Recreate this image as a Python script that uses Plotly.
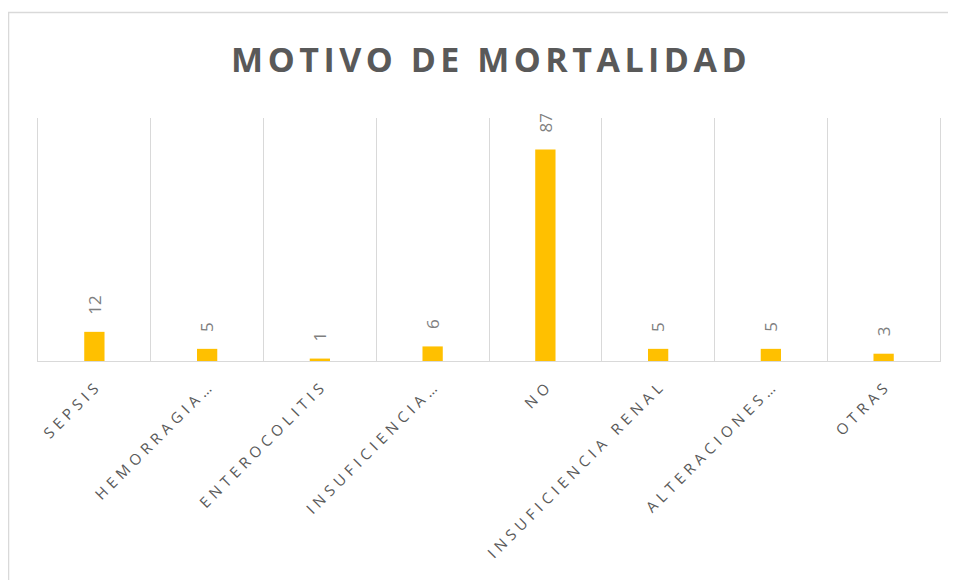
import plotly.graph_objects as go

categories = ["SEPSIS", "HEMORRAGIA…", "ENTEROCOLITIS", "INSUFICIENCIA…", "NO",
              "INSUFICIENCIA RENAL", "ALTERACIONES…", "OTRAS"]
values = [12, 5, 1, 6, 87, 5, 5, 3]
title_text = "MOTIVO DE MORTALIDAD"


def spaced(s, px):
    # letter-spacing on all but the final character (no trailing gap)
    return '<span style="letter-spacing:%spx">%s</span>%s' % (px, s[:-1], s[-1])


fig = go.Figure()
fig.add_trace(go.Bar(
    x=categories, y=values,
    marker=dict(color="#FFC000", line=dict(width=0)),
    width=0.18,
    hoverinfo="x+y",
))

for c, v in zip(categories, values):
    fig.add_annotation(x=c, y=v, text=str(v), showarrow=False,
                       textangle=-90, yanchor="bottom", yshift=15,
                       font=dict(family="Open Sans", size=17, color="#7F7F7F"))

ticktext = [spaced(c, 4.8) for c in categories]

fig.update_layout(
    width=956, height=580,
    margin=dict(l=30, r=24, t=110, b=227),
    paper_bgcolor="white", plot_bgcolor="white",
    showlegend=False,
    title=dict(text='<b>' + spaced(title_text, 4.5) + '</b>',
               x=0.503, xanchor="center", y=0.91, yanchor="middle",
               font=dict(family="Open Sans", size=34, color="#595959")),
    xaxis=dict(type="category", tickson="boundaries", showgrid=True,
               gridcolor="#D9D9D9", gridwidth=1,
               showline=True, linecolor="#D9D9D9", linewidth=1,
               ticks="", tickangle=-45, ticklabelstandoff=12,
               tickmode="array", tickvals=categories, ticktext=ticktext,
               tickfont=dict(family="Open Sans", size=15, color="#595959")),
    yaxis=dict(range=[0, 100], showgrid=False, showticklabels=False,
               zeroline=False, showline=True, mirror=True,
               linecolor="#D9D9D9", linewidth=1),
    shapes=[dict(type="rect", xref="paper", yref="paper",
                 x0=-0.0327, x1=1.05, y0=-1.0, y1=1.434,
                 line=dict(color="#D9D9D9", width=1.5), layer="below")],
)

fig.write_html("out.html")
